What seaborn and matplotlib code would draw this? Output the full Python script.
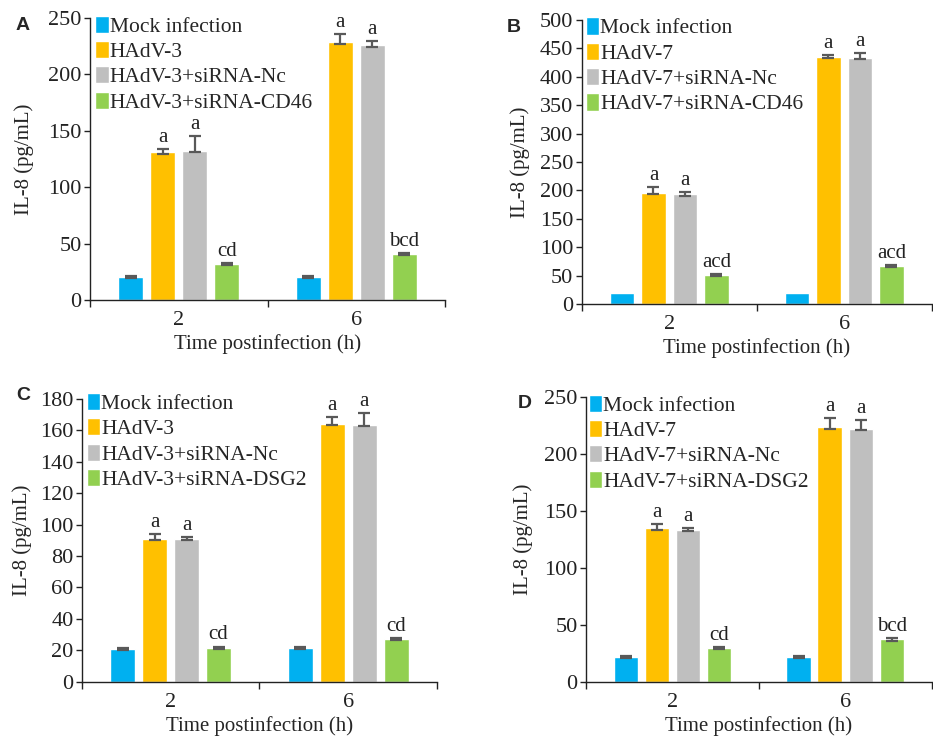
import pandas as pd
import seaborn as sns
import matplotlib.pyplot as plt
from matplotlib.ticker import FixedLocator, MultipleLocator

# data (bar value, upper / lower error)
times = ["2", "6"]
colors = ["#00B0F0", "#FFC000", "#BFBFBF", "#92D050"]

a_groups = ["Mock infection", "HAdV-3", "HAdV-3+siRNA-Nc", "HAdV-3+siRNA-CD46"]
a_vals = [[20.7, 20.7], [130.8, 228.4], [132.5, 225.7], [31.7, 40.5]]
a_up = [[0.8, 0.8], [3.2, 7.4], [12.5, 4.2], [1.0, 1.0]]
a_dn = [[0.8, 0.8], [1.0, 1.0], [1.0, 1.0], [1.0, 1.0]]
a_sig = [["", ""], ["a", "a"], ["a", "a"], ["cd", "bcd"]]

b_groups = ["Mock infection", "HAdV-7", "HAdV-7+siRNA-Nc", "HAdV-7+siRNA-CD46"]
b_vals = [[19.0, 19.0], [196.0, 435.4], [193.0, 432.5], [51.0, 67.0]]
b_up = [[0.0, 0.0], [10.6, 3.0], [3.5, 10.0], [2.0, 2.0]]
b_dn = [[0.0, 0.0], [2.0, 2.0], [2.0, 2.0], [2.0, 2.0]]
b_sig = [["", ""], ["a", "a"], ["a", "a"], ["acd", "acd"]]

c_groups = ["Mock infection", "HAdV-3", "HAdV-3+siRNA-Nc", "HAdV-3+siRNA-DSG2"]
c_vals = [[20.6, 21.7], [91.0, 164.3], [91.0, 163.6], [21.7, 27.2]]
c_up = [[0.7, 0.7], [3.0, 4.0], [1.4, 7.4], [0.7, 0.7]]
c_dn = [[0.7, 0.7], [0.7, 1.0], [0.7, 1.0], [0.7, 0.7]]
c_sig = [["", ""], ["a", "a"], ["a", "a"], ["cd", "cd"]]

d_groups = ["Mock infection", "HAdV-7", "HAdV-7+siRNA-Nc", "HAdV-7+siRNA-DSG2"]
d_vals = [[21.9, 21.9], [134.5, 223.1], [133.0, 221.9], [29.8, 37.1]]
d_up = [[0.7, 0.7], [3.8, 8.0], [1.5, 8.0], [1.0, 1.0]]
d_dn = [[0.7, 0.7], [1.0, 1.0], [1.0, 1.0], [1.0, 1.0]]
d_sig = [["", ""], ["a", "a"], ["a", "a"], ["cd", "bcd"]]

sns.set_style("white")
plt.rcParams['font.family'] = ['Liberation Serif', 'DejaVu Serif']
plt.rcParams['axes.edgecolor'] = '#222222'
plt.rcParams['xtick.color'] = '#222222'
plt.rcParams['ytick.color'] = '#222222'

fig = plt.figure(figsize=(9.33, 7.38), dpi=100)

panels = [
    ("A", [0.0965, 0.5935, 0.3805, 0.382], a_groups, a_vals, a_up, a_dn, a_sig, 250, 50, -0.158, (0.015, 1.009)),
    ("B", [0.6235, 0.588, 0.375, 0.385], b_groups, b_vals, b_up, b_dn, b_sig, 500, 50, -0.148, (0.012, 1.009)),
    ("C", [0.0876, 0.0763, 0.381, 0.383], c_groups, c_vals, c_up, c_dn, c_sig, 180, 20, -0.141, (0.015, 1.022)),
    ("D", [0.628, 0.0763, 0.3705, 0.386], d_groups, d_vals, d_up, d_dn, d_sig, 250, 50, -0.152, (0.008, 1.008)),
]

letter_pos = {"A": (23, 25), "B": (514, 27), "C": (23, 395), "D": (525, 403)}

for name, rect, groups, vals, up, dn, sig, ymax, ystep, ylab_x, leg_anchor in panels:
    ax = fig.add_axes(rect)
    rows = []
    for g, v in zip(groups, vals):
        for t, val in zip(times, v):
            rows.append({"time": t, "group": g, "value": val})
    df = pd.DataFrame(rows)

    sns.barplot(data=df, x="time", y="value", hue="group", hue_order=groups,
                order=times, palette=colors, saturation=1, width=0.72, gap=0.22,
                errorbar=None, ax=ax)

    # error bars and significance letters on top of each bar
    bar_containers = list(ax.containers)
    for gi, cont in enumerate(bar_containers):
        for ti, bar in enumerate(cont.patches):
            xc = bar.get_x() + bar.get_width() / 2
            h = bar.get_height()
            if up[gi][ti] > 0 or dn[gi][ti] > 0:
                ax.errorbar(xc, h, yerr=[[dn[gi][ti]], [up[gi][ti]]], fmt="none",
                            ecolor="#595959", elinewidth=1.6, capsize=4, capthick=1.6,
                            zorder=5)
            if sig[gi][ti]:
                ax.annotate(sig[gi][ti], (xc, h + up[gi][ti]), xytext=(0, 1.5),
                            textcoords="offset points", ha="center", va="bottom",
                            fontsize=15, color="#222222")

    ax.set_ylim(0, ymax)
    ax.set_xlim(-0.5, 1.5)
    ax.yaxis.set_major_locator(MultipleLocator(ystep))
    ax.tick_params(axis="y", direction="out", length=4, width=1, labelsize=16, pad=2, left=True)
    ax.tick_params(axis="x", which="major", length=0, labelsize=16, pad=8)
    ax.xaxis.set_minor_locator(FixedLocator([-0.5, 0.5, 1.5]))
    ax.tick_params(axis="x", which="minor", direction="out", length=5, width=1, bottom=True)
    sns.despine(ax=ax)
    ax.spines["left"].set_linewidth(1.0)
    ax.spines["bottom"].set_linewidth(1.0)

    ax.set_ylabel("IL-8 (pg/mL)", fontsize=15)
    ax.yaxis.set_label_coords(ylab_x, 0.5)
    ax.set_xlabel("Time postinfection (h)", fontsize=15, labelpad=3)

    ax.legend(loc="upper left", bbox_to_anchor=leg_anchor, frameon=False,
              fontsize=15.5, handlelength=0.62, handleheight=0.85, handletextpad=0.05,
              labelspacing=0.2, borderpad=0, borderaxespad=0, title=None)

    fx, fy = letter_pos[name]
    fig.text(fx / 933, 1 - fy / 738, name, fontsize=14, fontweight="bold",
             family=["Liberation Sans", "DejaVu Sans"], ha="center", va="center")

fig.savefig("out.png", dpi=100)
